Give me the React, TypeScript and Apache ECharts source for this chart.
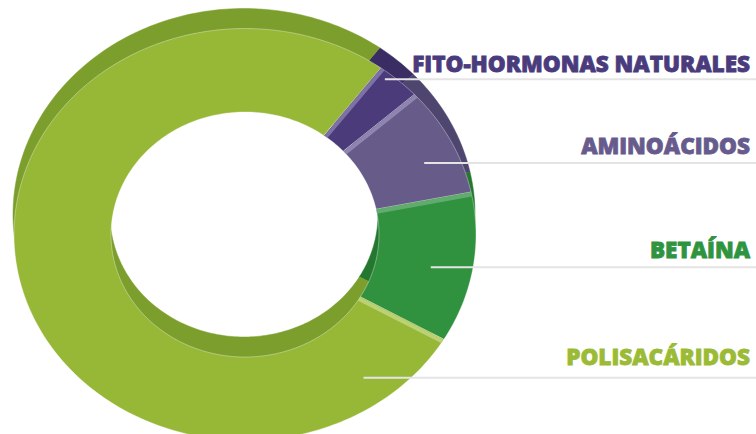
import React, { useEffect, useRef } from "react";
import * as echarts from "echarts";

// ---- data ----
const categories = ["FITO-HORMONAS NATURALES", "AMINOÁCIDOS", "BETAÍNA", "POLISACÁRIDOS"];
const values = [3.1, 8.6, 11.8, 76.5];
const faceColors = ["#4b3b7b", "#665b89", "#30923e", "#97b837"];
const rimColors = ["#3a2d63", "#4f4670", "#24772f", "#7b9e2d"];
const bevelColors = ["#8a7fb0", "#9a90bb", "#6fb27a", "#c4d783"];
const textColors = ["#4a3b7d", "#675b8d", "#2f943f", "#9bbb36"];

// ---- layout ----
const START = 36; // degrees clockwise from top
const CX = 245, CY = 234.5, RX = 231, RY = 206, IRX = 134, IRY = 122.5;
const BASE_DX = -1, BASE_DY = -20;
// label anchor inside slice: [fraction of angular span, fraction between inner/outer]
const anchorAngle = [0.25, 0.61, 0.54, 0.083];
const anchorRad = [0.92, 0.64, 0.57, 0.67];
const textGap = [16, 17.5, 18, 21];

const total = values.reduce((a, b) => a + b, 0);
const startAngles: number[] = [];
const endAngles: number[] = [];
{
  let acc = START;
  values.forEach((v) => {
    startAngles.push(acc);
    acc += (v / total) * 360;
    endAngles.push(acc);
  });
}

function pt(t: number, rx: number, ry: number, cx: number, cy: number) {
  const a = (t * Math.PI) / 180;
  return [cx + rx * Math.sin(a), cy - ry * Math.cos(a)];
}

function ring(t0: number, t1: number, cx: number, cy: number) {
  const steps = Math.max(2, Math.ceil((t1 - t0) / 1.2));
  const pts: number[][] = [];
  for (let s = 0; s <= steps; s++) pts.push(pt(t0 + ((t1 - t0) * s) / steps, RX, RY, cx, cy));
  for (let s = steps; s >= 0; s--) pts.push(pt(t0 + ((t1 - t0) * s) / steps, IRX, IRY, cx, cy));
  return pts;
}

export default function App() {
  const ref = useRef<HTMLDivElement>(null);
  useEffect(() => {
    if (!ref.current) return;
    const chart = echarts.init(ref.current, undefined, { renderer: "svg" });
    const data = values.map((v, i) => [v, i]);
    chart.setOption({
      animation: false,
      backgroundColor: "#ffffff",
      series: [
        {
          type: "custom",
          coordinateSystem: "none",
          z: 1,
          silent: true,
          data,
          renderItem: (params: any) => {
            const i = params.dataIndex;
            return {
              type: "polygon",
              shape: { points: ring(startAngles[i], endAngles[i], CX + BASE_DX, CY + BASE_DY) },
              style: { fill: rimColors[i], stroke: rimColors[i], lineWidth: 0.5 },
            };
          },
        },
        {
          type: "custom",
          coordinateSystem: "none",
          z: 2,
          silent: true,
          data,
          renderItem: (params: any) => {
            const i = params.dataIndex;
            const t0 = startAngles[i];
            const a = (t0 * Math.PI) / 180;
            let dx = RX * Math.cos(a), dy = RY * Math.sin(a);
            const len = Math.hypot(dx, dy);
            dx = (dx / len) * 2.5;
            dy = (dy / len) * 2.5;
            const pIn = pt(t0, IRX, IRY, CX, CY);
            const pOut = pt(t0, RX, RY, CX, CY);
            return {
              type: "group",
              children: [
                {
                  type: "polygon",
                  shape: { points: ring(startAngles[i], endAngles[i], CX, CY) },
                  style: { fill: faceColors[i], stroke: "rgba(255,255,255,0.35)", lineWidth: 1 },
                },
                {
                  type: "line",
                  shape: { x1: pIn[0] + dx, y1: pIn[1] + dy, x2: pOut[0] + dx, y2: pOut[1] + dy },
                  style: { stroke: bevelColors[i], lineWidth: 4, opacity: 0.8 },
                },
              ],
            };
          },
        },
        {
          type: "custom",
          coordinateSystem: "none",
          z: 3,
          silent: true,
          data,
          renderItem: (params: any, api: any) => {
            const i = params.dataIndex;
            const t = startAngles[i] + (endAngles[i] - startAngles[i]) * anchorAngle[i];
            const f = anchorRad[i];
            const p = pt(t, IRX + (RX - IRX) * f, IRY + (RY - IRY) * f, CX, CY);
            const w = api.getWidth();
            return {
              type: "group",
              children: [
                {
                  type: "line",
                  shape: { x1: p[0], y1: p[1], x2: w, y2: p[1] },
                  style: { stroke: "#e4e4e4", lineWidth: 2 },
                },
                {
                  type: "text",
                  x: w - 6,
                  y: p[1] - textGap[i],
                  style: {
                    text: categories[i],
                    fill: textColors[i],
                    stroke: textColors[i],
                    lineWidth: 0.8,
                    font: "800 22.5px 'Open Sans', sans-serif",
                    textAlign: "right",
                    textVerticalAlign: "middle",
                    align: "right",
                    verticalAlign: "middle",
                  },
                },
              ],
            };
          },
        },
      ],
    });
    return () => chart.dispose();
  }, []);
  return (
    <div
      ref={ref}
      style={{ position: "fixed", left: 0, top: 0, width: 756, height: 434, background: "#fff" }}
    />
  );
}
